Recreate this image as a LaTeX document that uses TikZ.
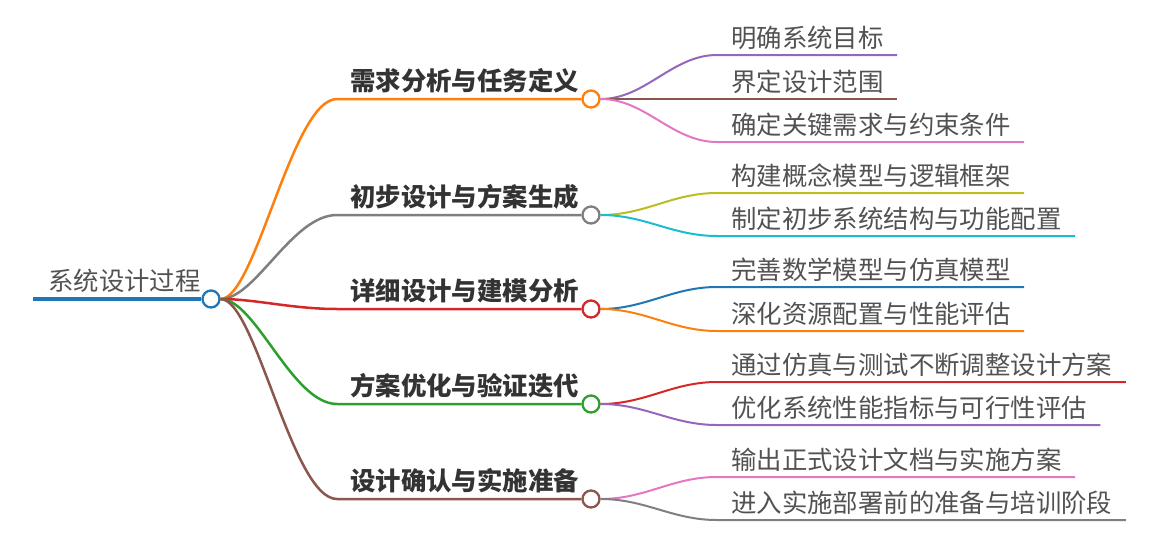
\documentclass[tikz,border=0pt]{standalone}
\usepackage{fontspec}
\setmainfont{Noto Sans CJK SC}
\usepackage{tikz}
\usetikzlibrary{calc,positioning}
\definecolor{tblue}{HTML}{1F77B4}
\definecolor{torange}{HTML}{FF7F0E}
\definecolor{tgreen}{HTML}{2CA02C}
\definecolor{tred}{HTML}{D62728}
\definecolor{tpurple}{HTML}{9467BD}
\definecolor{tbrown}{HTML}{8C564B}
\definecolor{tpink}{HTML}{E377C2}
\definecolor{tgray}{HTML}{7F7F7F}
\definecolor{tolive}{HTML}{BCBD22}
\definecolor{tcyan}{HTML}{17BECF}
\tikzset{
    hub/.style={circle, draw=#1, fill=white, line width=2.3pt, minimum size=17pt, inner sep=0pt},
    branch/.style={anchor=base east, inner sep=0pt, text=black!80,
        font=\fontsize{25.4pt}{30pt}\selectfont\bfseries},
    leaf/.style={anchor=base west, inner sep=0pt, text=black!68,
        font=\fontsize{25.4pt}{30pt}\selectfont},
    trunk/.style={line width=2.5pt},
    twig/.style={line width=2pt}
}

\begin{document}
\begin{tikzpicture}[x=1pt, y=-1pt]
    \useasboundingbox (0,0) rectangle (1160,546);

    % root
    \coordinate (start) at (33,299);
    \node[hub=tblue] (sys) at (211,299) {};
    \node[leaf] (systext) at (48,290) {系统设计过程};
    \draw[tblue, line width=4pt] (start) -- (sys.west);

    % branches
    \node[hub=torange] (b1) at (591,99) {};
    \node[hub=tgray] (b2) at (591,215) {};
    \node[hub=tred] (b3) at (591,309) {};
    \node[hub=tgreen] (b4) at (591,404) {};
    \node[hub=tbrown] (b5) at (591,499) {};
    \node[branch] (t1) at (579,90) {需求分析与任务定义};
    \node[branch] (t2) at (579,206) {初步设计与方案生成};
    \node[branch] (t3) at (579,300) {详细设计与建模分析};
    \node[branch] (t4) at (579,395) {方案优化与验证迭代};
    \node[branch] (t5) at (579,490) {设计确认与实施准备};
    \coordinate (k1) at (337,99);
    \coordinate (k2) at (337,215);
    \coordinate (k3) at (337,309);
    \coordinate (k4) at (337,404);
    \coordinate (k5) at (337,499);
    \draw[torange, trunk] (sys.east) .. controls +(35,0) and +(-45,0) .. (k1) -- (b1.west);
    \draw[tgray, trunk] (sys.east) .. controls +(35,0) and +(-45,0) .. (k2) -- (b2.west);
    \draw[tred, trunk] (sys.east) .. controls +(35,0) and +(-45,0) .. (k3) -- (b3.west);
    \draw[tgreen, trunk] (sys.east) .. controls +(35,0) and +(-45,0) .. (k4) -- (b4.west);
    \draw[tbrown, trunk] (sys.east) .. controls +(35,0) and +(-45,0) .. (k5) -- (b5.west);

    % leaves
    \node[leaf] (l11) at (731,47) {明确系统目标};
    \node[leaf] (l12) at (731,91) {界定设计范围};
    \node[leaf] (l13) at (731,134) {确定关键需求与约束条件};
    \node[leaf] (l21) at (731,185) {构建概念模型与逻辑框架};
    \node[leaf] (l22) at (731,228) {制定初步系统结构与功能配置};
    \node[leaf] (l31) at (731,279) {完善数学模型与仿真模型};
    \node[leaf] (l32) at (731,323) {深化资源配置与性能评估};
    \node[leaf] (l41) at (731,374) {通过仿真与测试不断调整设计方案};
    \node[leaf] (l42) at (731,417) {优化系统性能指标与可行性评估};
    \node[leaf] (l51) at (731,469) {输出正式设计文档与实施方案};
    \node[leaf] (l52) at (731,512) {进入实施部署前的准备与培训阶段};
    \coordinate (e11) at (717,55);
    \coordinate (e12) at (717,99);
    \coordinate (e13) at (717,142);
    \coordinate (e21) at (717,193);
    \coordinate (e22) at (717,236);
    \coordinate (e31) at (717,287);
    \coordinate (e32) at (717,331);
    \coordinate (e41) at (717,382);
    \coordinate (e42) at (717,425);
    \coordinate (e51) at (717,477);
    \coordinate (e52) at (717,520);
    \draw[tpurple, twig] (b1.east) .. controls +(45,0) and +(-45,0) .. (e11) -- (e11 -| l11.east) -- ++(13.4,0);
    \draw[tbrown, twig] (b1.east) -- (e12) -- (e12 -| l12.east) -- ++(13.4,0);
    \draw[tpink, twig] (b1.east) .. controls +(45,0) and +(-45,0) .. (e13) -- (e13 -| l13.east) -- ++(13.4,0);
    \draw[tolive, twig] (b2.east) .. controls +(45,0) and +(-45,0) .. (e21) -- (e21 -| l21.east) -- ++(13.4,0);
    \draw[tcyan, twig] (b2.east) .. controls +(45,0) and +(-45,0) .. (e22) -- (e22 -| l22.east) -- ++(13.4,0);
    \draw[tblue, twig] (b3.east) .. controls +(45,0) and +(-45,0) .. (e31) -- (e31 -| l31.east) -- ++(13.4,0);
    \draw[torange, twig] (b3.east) .. controls +(45,0) and +(-45,0) .. (e32) -- (e32 -| l32.east) -- ++(13.4,0);
    \draw[tred, twig] (b4.east) .. controls +(45,0) and +(-45,0) .. (e41) -- (e41 -| l41.east) -- ++(13.4,0);
    \draw[tpurple, twig] (b4.east) .. controls +(45,0) and +(-45,0) .. (e42) -- (e42 -| l42.east) -- ++(13.4,0);
    \draw[tpink, twig] (b5.east) .. controls +(45,0) and +(-45,0) .. (e51) -- (e51 -| l51.east) -- ++(13.4,0);
    \draw[tgray, twig] (b5.east) .. controls +(45,0) and +(-45,0) .. (e52) -- (e52 -| l52.east) -- ++(13.4,0);
\end{tikzpicture}
\end{document}
